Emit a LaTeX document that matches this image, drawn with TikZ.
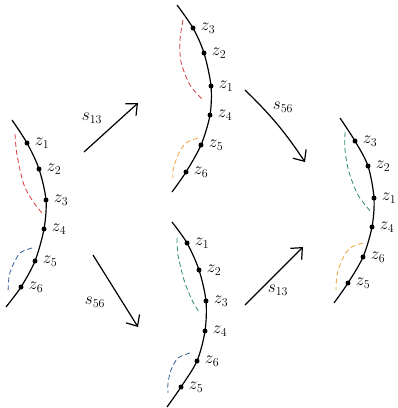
\documentclass[tikz,border=0pt]{standalone}
\usepackage{tikz}
\usetikzlibrary{arrows.meta,positioning}
\definecolor{chRed}{HTML}{D83A3A}
\definecolor{chBlue}{HTML}{2F5E92}
\definecolor{chGreen}{HTML}{2E8B6A}
\definecolor{chOrange}{HTML}{EFA23A}
\tikzset{
    chCurve/.style={draw=black, line width=1.2pt},
    chDot/.style={circle, fill=black, inner sep=0pt, minimum size=5pt},
    chLabel/.style={font=\LARGE, inner sep=1pt},
    % dashed arcs over the swapped points
    chSwap/.style={line width=0.8pt, dash pattern=on 5pt off 3pt},
    % Arrows
    chArrow/.style={-{Straight Barb[length=9pt,width=16pt]}, line width=1.2pt},
    chArrowLabel/.style={font=\LARGE, inner sep=1pt}
}

\begin{document}
\begin{tikzpicture}[x=1pt, y=-1pt]
\useasboundingbox (0,0) rectangle (398,408);

% left chain
\coordinate (aTop) at (12,120);
\coordinate (aEnd) at (6,307);
\node[chDot] (a1) at (27,143) {};
\node[chDot] (a2) at (39,169) {};
\node[chDot] (a3) at (46,200) {};
\node[chDot] (a4) at (44,229) {};
\node[chDot] (a5) at (35,261) {};
\node[chDot] (a6) at (21,287) {};
\draw[chCurve] plot[smooth] coordinates {(aTop) (a1.center) (a2.center) (a3.center) (a4.center) (a5.center) (a6.center) (aEnd)};
\node[chLabel, right=4pt of a1] {$z_1$};
\node[chLabel, right=4pt of a2] {$z_2$};
\node[chLabel, right=4pt of a3] {$z_3$};
\node[chLabel, right=4pt of a4] {$z_4$};
\node[chLabel, right=4pt of a5] {$z_5$};
\node[chLabel, right=4pt of a6] {$z_6$};
\draw[chSwap, chRed] plot[smooth] coordinates {(15,134) (17,155) (24,185) (34,203) (43,214)};
\draw[chSwap, chBlue] plot[smooth] coordinates {(32,248) (20,253) (12,267) (9,277) (8,292)};

% top chain
\coordinate (bTop) at (177,5);
\coordinate (bEnd) at (172,192);
\node[chDot] (b3) at (193,28) {};
\node[chDot] (b2) at (204,53) {};
\node[chDot] (b1) at (211,86) {};
\node[chDot] (b4) at (210,115) {};
\node[chDot] (b5) at (201,145) {};
\node[chDot] (b6) at (186,172) {};
\draw[chCurve] plot[smooth] coordinates {(bTop) (b3.center) (b2.center) (b1.center) (b4.center) (b5.center) (b6.center) (bEnd)};
\node[chLabel, right=4pt of b3] {$z_3$};
\node[chLabel, right=4pt of b2] {$z_2$};
\node[chLabel, right=4pt of b1] {$z_1$};
\node[chLabel, right=4pt of b4] {$z_4$};
\node[chLabel, right=4pt of b5] {$z_5$};
\node[chLabel, right=4pt of b6] {$z_6$};
\draw[chSwap, chRed] plot[smooth] coordinates {(183,20) (180,40) (181,62) (190,85) (203,100)};
\draw[chSwap, chOrange] plot[smooth] coordinates {(198,138) (186,143) (178,155) (173,170) (173,178)};

% bottom chain
\coordinate (cTop) at (172,222);
\coordinate (cEnd) at (167,407);
\node[chDot] (c1) at (187,243) {};
\node[chDot] (c2) at (199,270) {};
\node[chDot] (c3) at (206,301) {};
\node[chDot] (c4) at (205,331) {};
\node[chDot] (c6) at (197,361) {};
\node[chDot] (c5) at (181,387) {};
\draw[chCurve] plot[smooth] coordinates {(cTop) (c1.center) (c2.center) (c3.center) (c4.center) (c6.center) (c5.center) (cEnd)};
\node[chLabel, right=4pt of c1] {$z_1$};
\node[chLabel, right=4pt of c2] {$z_2$};
\node[chLabel, right=4pt of c3] {$z_3$};
\node[chLabel, right=4pt of c4] {$z_4$};
\node[chLabel, right=4pt of c6] {$z_6$};
\node[chLabel, right=4pt of c5] {$z_5$};
\draw[chSwap, chGreen] plot[smooth] coordinates {(177,238) (178,255) (184,280) (192,300) (199,312)};
\draw[chSwap, chBlue] plot[smooth] coordinates {(190,353) (178,358) (171,370) (168,383) (168,393)};

% right chain
\coordinate (dTop) at (340,118);
\coordinate (dEnd) at (334,303);
\node[chDot] (d3) at (355,141) {};
\node[chDot] (d2) at (368,166) {};
\node[chDot] (d1) at (374,198) {};
\node[chDot] (d4) at (372,227) {};
\node[chDot] (d6) at (363,257) {};
\node[chDot] (d5) at (348,283) {};
\draw[chCurve] plot[smooth] coordinates {(dTop) (d3.center) (d2.center) (d1.center) (d4.center) (d6.center) (d5.center) (dEnd)};
\node[chLabel, right=4pt of d3] {$z_3$};
\node[chLabel, right=4pt of d2] {$z_2$};
\node[chLabel, right=4pt of d1] {$z_1$};
\node[chLabel, right=4pt of d4] {$z_4$};
\node[chLabel, right=4pt of d6] {$z_6$};
\node[chLabel, right=4pt of d5] {$z_5$};
\draw[chSwap, chGreen] plot[smooth] coordinates {(345,132) (345,150) (349,172) (358,195) (371,212)};
\draw[chSwap, chOrange] plot[smooth] coordinates {(363,243) (350,248) (342,260) (337,275) (336,290)};

% moves between chains
\coordinate (m1s) at (84,152);
\coordinate (m1e) at (138,103);
\coordinate (m2s) at (93,255);
\coordinate (m2e) at (138,327);
\coordinate (m3s) at (245,90);
\coordinate (m3e) at (305,162);
\coordinate (m4s) at (245,305);
\coordinate (m4e) at (303,247);
\draw[chArrow] (m1s) -- (m1e);
\draw[chArrow] (m2s) -- (m2e);
\draw[chArrow] (m3s) to[bend left=6] (m3e);
\draw[chArrow] (m4s) -- (m4e);
\node[chArrowLabel] (l1) at (92,118) {$s_{13}$};
\node[chArrowLabel] (l2) at (95,302) {$s_{56}$};
\node[chArrowLabel] (l3) at (283,107) {$s_{56}$};
\node[chArrowLabel] (l4) at (278,290) {$s_{13}$};
\end{tikzpicture}
\end{document}
